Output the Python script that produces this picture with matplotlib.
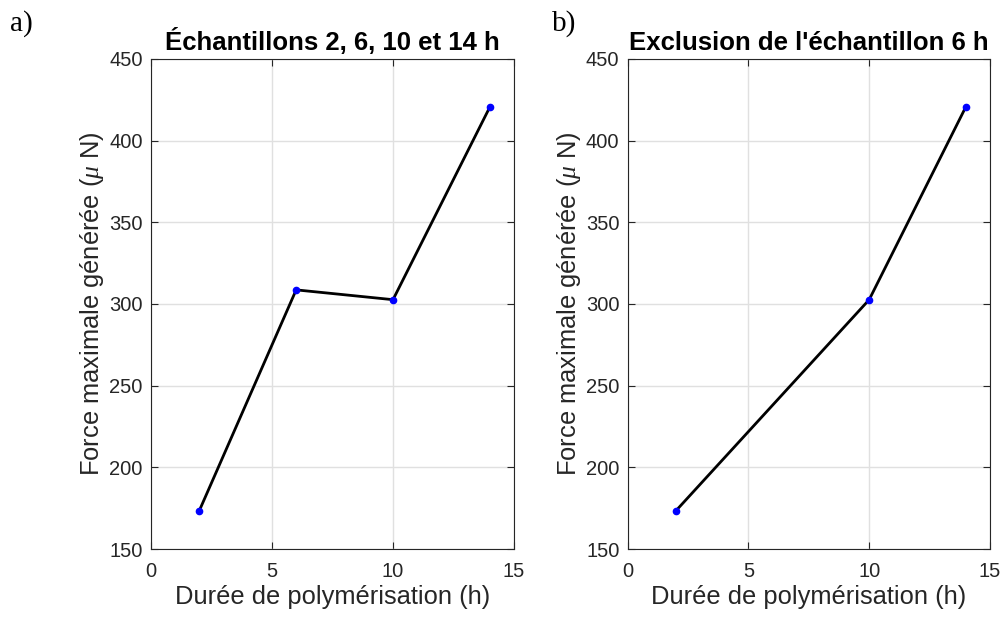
import matplotlib
matplotlib.use("Agg")
import matplotlib.pyplot as plt

plt.rcParams['font.family'] = ['Liberation Sans', 'DejaVu Sans']
plt.rcParams['mathtext.fontset'] = 'custom'
plt.rcParams['mathtext.it'] = 'Liberation Serif:italic'
plt.rcParams['mathtext.rm'] = 'Liberation Sans'

# Data
x_a = [2, 6, 10, 14]
y_a = [173.5, 308.6, 302.6, 420.5]
x_b = [2, 10, 14]
y_b = [173.5, 302.6, 420.5]

titles = ["Échantillons 2, 6, 10 et 14 h", "Exclusion de l'échantillon 6 h"]
panel_labels = ["a)", "b)"]
xlabel = "Durée de polymérisation (h)"
ylabel = r"Force maximale générée ($\mu$ N)"
xticks = [0, 5, 10, 15]
yticks = [150, 200, 250, 300, 350, 400, 450]

fig = plt.figure(figsize=(10.06, 6.19), dpi=100)
axes = [fig.add_axes([0.150, 0.113, 0.361, 0.792]),
        fig.add_axes([0.624, 0.113, 0.360, 0.792])]

spine_col = (0.15, 0.15, 0.15)
for ax, xs, ys, t in zip(axes, [x_a, x_b], [y_a, y_b], titles):
    ax.plot(xs, ys, color='black', lw=2, zorder=3)
    ax.plot(xs, ys, 'o', color='blue', ms=4.5, mec='blue', zorder=4)
    ax.set_xlim(0, 15)
    ax.set_ylim(150, 450)
    ax.set_xticks(xticks)
    ax.set_yticks(yticks)
    ax.grid(True, color=(0.88, 0.88, 0.88), lw=1)
    ax.set_axisbelow(True)
    ax.tick_params(direction='in', length=5, width=0.8, colors=spine_col,
                   labelsize=14.5, top=True, right=True, labelcolor=spine_col, pad=6)
    ax.tick_params(axis='x', pad=9)
    for s in ax.spines.values():
        s.set_color(spine_col)
        s.set_linewidth(0.8)
    ax.set_title(t, fontsize=18.5, fontweight='bold', pad=6.5)
    ax.set_xlabel(xlabel, fontsize=18.4, color=spine_col, labelpad=3)
    ax.set_ylabel(ylabel, fontsize=18.4, color=spine_col, labelpad=2)

fig.text(0.010, 0.950, panel_labels[0], fontsize=21, family='Liberation Serif',
         va='baseline')
fig.text(0.549, 0.950, panel_labels[1], fontsize=21, family='Liberation Serif',
         va='baseline')

fig.savefig("out.png", dpi=100)
